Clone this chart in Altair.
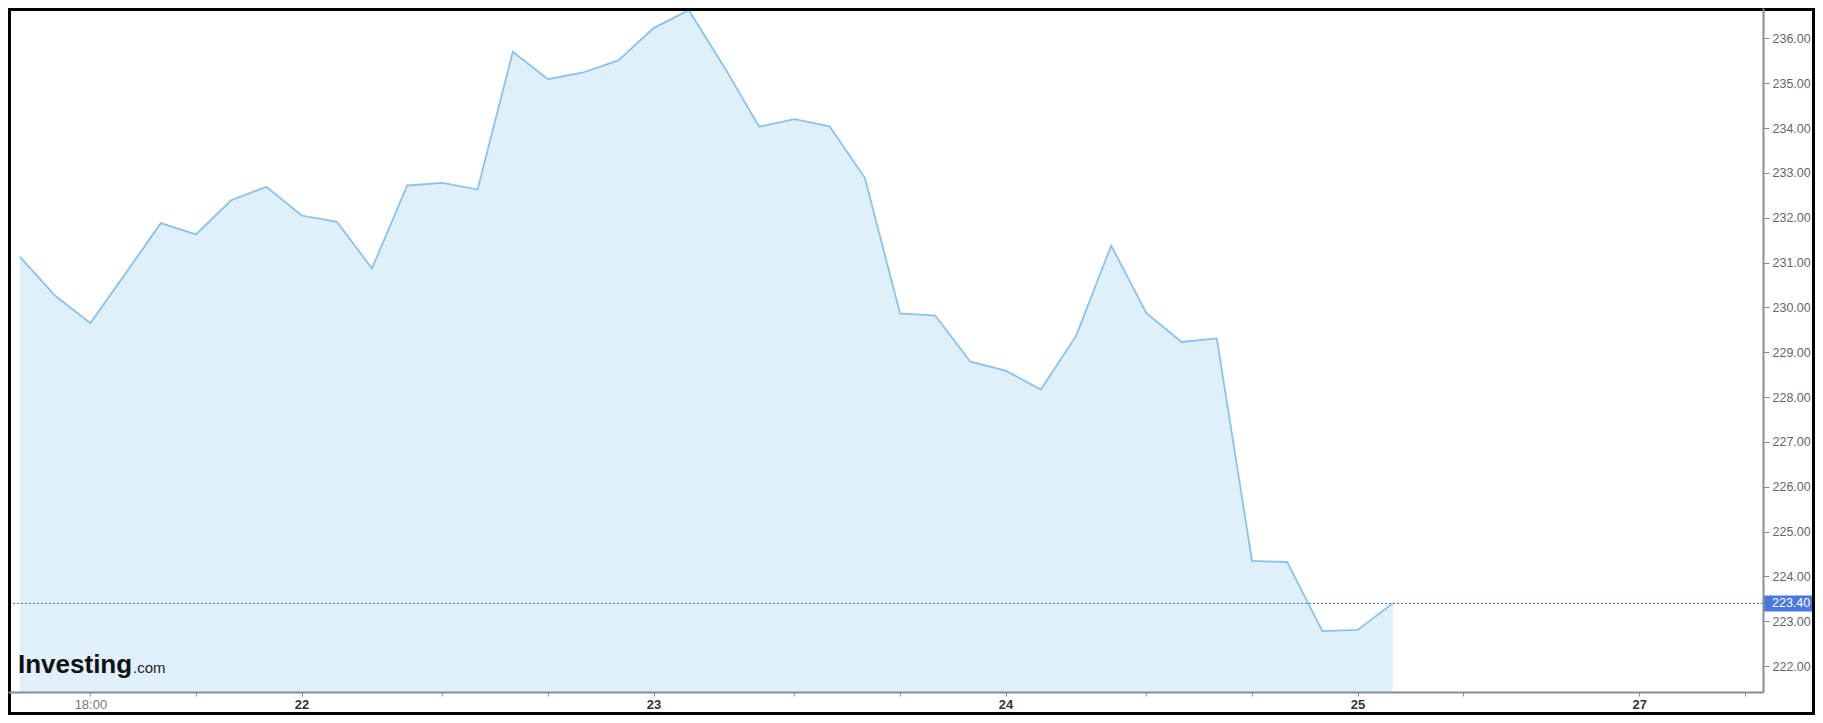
import altair as alt
import pandas as pd

# ---- data ----
prices = [231.13, 230.26, 229.65, 230.76, 231.88, 231.63, 232.39, 232.69, 232.05, 231.91,
          230.87, 232.72, 232.78, 232.63, 235.70, 235.09, 235.24, 235.51, 236.23, 236.63,
          235.37, 234.03, 234.20, 234.04, 232.89, 229.87, 229.82, 228.79, 228.59, 228.17,
          229.36, 231.38, 229.87, 229.23, 229.31, 224.35, 224.32, 222.78, 222.81, 223.40]
point_index = list(range(len(prices)))

major_ticks = [2, 8, 18, 28, 38, 46]
major_labels = ["18:00", "22", "23", "24", "25", "27"]
minor_ticks = [5, 12, 15, 22, 25, 32, 35, 41, 49]
y_ticks = [222, 223, 224, 225, 226, 227, 228, 229, 230, 231, 232, 233, 234, 235, 236]
last_price = [223.40]

# ---- layout / style ----
W, H = 1755, 684
FONT = "Liberation Sans"
LINE = "#89c2f0"
FILL = "#e0f0fa"
AXIS = "#8c8c8c"
Y_MIN, Y_MAX = 221.424, 236.678

df = pd.DataFrame({"i": point_index, "p": prices})
last_df = pd.DataFrame({"p": last_price})

x_scale = alt.Scale(domain=[-0.341, 49.517], nice=False, zero=False)
y_scale = alt.Scale(domain=[Y_MIN, Y_MAX], nice=False, zero=False)

label_expr = "".join(f"datum.value == {v} ? '{l}' : " for v, l in zip(major_ticks, major_labels)) + "''"

x_axis = alt.Axis(
    values=sorted(major_ticks + minor_ticks), labelExpr=label_expr, title=None, grid=False,
    tickSize=4, tickColor=AXIS, tickWidth=1, domainColor=AXIS, domainWidth=2,
    labelFont=FONT, labelFontSize=13, labelPadding=2, labelOverlap=False, labelFlush=False,
    labelColor={"condition": {"test": "datum.value == 2", "value": "#777777"}, "value": "#333333"},
    labelFontWeight={"condition": {"test": "datum.value == 2", "value": "normal"}, "value": "bold"},
    zindex=1,
)
y_axis = alt.Axis(
    orient="right", values=y_ticks, format=".2f", title=None, grid=False,
    tickSize=6, tickColor=AXIS, tickWidth=1, domainColor=AXIS, domainWidth=2,
    labelFont=FONT, labelFontSize=12.5, labelColor="#666666", labelPadding=3, labelOverlap=False,
    zindex=1,
)

base = alt.Chart(df)

area = base.mark_area(color=FILL, opacity=1, clip=True).encode(
    x=alt.X("i:Q", scale=x_scale, axis=x_axis),
    y=alt.Y("p:Q", scale=y_scale, axis=y_axis),
    y2=alt.datum(Y_MIN),
)
line = base.mark_line(color=LINE, strokeWidth=1.8).encode(
    x=alt.X("i:Q", scale=x_scale),
    y=alt.Y("p:Q", scale=y_scale),
)

last_base = alt.Chart(last_df)
dotted = last_base.mark_rule(color="#3d6ce0", strokeWidth=1, strokeDash=[2, 2]).encode(
    y=alt.Y("p:Q", scale=y_scale)
)
box = last_base.mark_rule(color="#4a78e0", strokeWidth=16, strokeCap="butt").encode(
    x=alt.value(W), x2=alt.value(W + 50), y=alt.Y("p:Q", scale=y_scale)
)
box_text = last_base.mark_text(
    align="left", baseline="middle", color="white", font=FONT, fontSize=12.5
).encode(
    x=alt.value(W + 9), y=alt.Y("p:Q", scale=y_scale), text=alt.Text("p:Q", format=".2f")
)

logo1 = alt.Chart(pd.DataFrame({"t": ["Investing"]})).mark_text(
    align="left", baseline="alphabetic", font=FONT, fontSize=26, fontWeight="bold", color="#111111"
).encode(x=alt.value(10), y=alt.value(665), text="t:N")
logo2 = alt.Chart(pd.DataFrame({"t": [".com"]})).mark_text(
    align="left", baseline="alphabetic", font=FONT, fontSize=15, color="#222222"
).encode(x=alt.value(125), y=alt.value(665), text="t:N")

frame = alt.Chart(pd.DataFrame({"a": [0]})).mark_rect(
    fillOpacity=0, stroke="black", strokeWidth=3
).encode(x=alt.value(1.5), x2=alt.value(W + 50.5), y=alt.value(1.5), y2=alt.value(H + 21.5))

chart = alt.layer(area, line, dotted, box, box_text, logo1, logo2, frame).properties(
    width=W, height=H,
    padding={"left": 0, "top": 0, "right": 52, "bottom": 23},
    autosize=alt.AutoSizeParams(type="none"),
    background="white",
).configure_view(stroke=None)

chart.save("out.html", embed_options={"renderer": "svg", "actions": False})
